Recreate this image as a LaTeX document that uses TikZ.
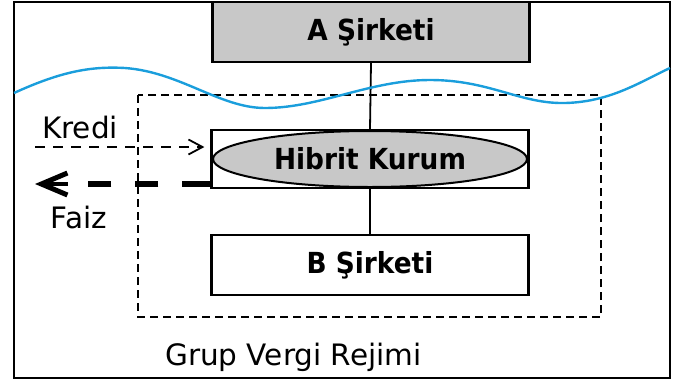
\documentclass[tikz,border=0pt]{standalone}
\usepackage{fontspec}
\setmainfont{DejaVu Sans}[BoldFeatures={FakeStretch=0.91}]
\usetikzlibrary{shapes.geometric,arrows.meta}
\definecolor{boxgray}{HTML}{C8C8C8}
\definecolor{waveblue}{HTML}{1A9EDC}
\tikzset{
  boxtext/.style={font=\bfseries\fontsize{29}{32}\selectfont},
  company/.style={draw, line width=2.2pt, minimum width=317pt, minimum height=60pt, boxtext},
  label/.style={font=\fontsize{29.5}{32}\selectfont, inner sep=0pt, anchor=base},
  link/.style={line width=1.8pt}
}
\begin{document}
\begin{tikzpicture}[x=1pt,y=-1pt]
\useasboundingbox (0,0) rectangle (677,381);
% outer frame
\draw[line width=2pt] (14,2) rectangle (670,378);
% group boundary
\draw[line width=2pt, dash pattern=on 8pt off 5pt] (138,95) rectangle (601,317);
% companies
\node[company, fill=boxgray] (A) at (371,32) {A Şirketi};
\node[company, minimum height=58pt] (H) at (370,159) {};
\node[draw, line width=2pt, ellipse, fill=boxgray, minimum width=314pt, minimum height=56pt, inner sep=0pt, boxtext] (HE) at (370,159) {Hibrit Kurum};
\node[company] (B) at (370,265) {B Şirketi};
\draw[link] (A.south) -- (H.north);
\draw[link] (H.south) -- (B.north);
% water line
\draw[waveblue, line width=2.4pt] (14,93) .. controls (60,72) and (90,66) .. (125,68)
  .. controls (180,72) and (220,108) .. (265,108)
  .. controls (320,108) and (370,80) .. (430,80)
  .. controls (490,80) and (520,104) .. (565,103)
  .. controls (610,102) and (640,82) .. (670,68);
% loan flowing in
\coordinate (kin) at (35,147);
\draw[line width=1.8pt, dash pattern=on 10pt off 8pt, -{Straight Barb[length=14pt,width=15pt,line width=1.8pt]}] (kin) -- ([xshift=-6pt]H.west |- kin);
% interest flowing out
\coordinate (fout) at (35,184);
\coordinate (fmid) at (68,184);
\draw[line width=5.5pt, dash pattern=on 28pt off 24pt on 23pt off 24pt on 23pt off 30pt] (H.west |- fout) -- (fmid);
\draw[line width=4.5pt, -{Straight Barb[length=26pt,width=22pt,line width=5pt]}] (fmid) -- (fout);
\node[label] (kredi) at (80,138) {Kredi};
\node[label] (faiz) at (79,228) {Faiz};
\node[label, anchor=base west] (grup) at (165,365) {Grup Vergi Rejimi};
\end{tikzpicture}
\end{document}
